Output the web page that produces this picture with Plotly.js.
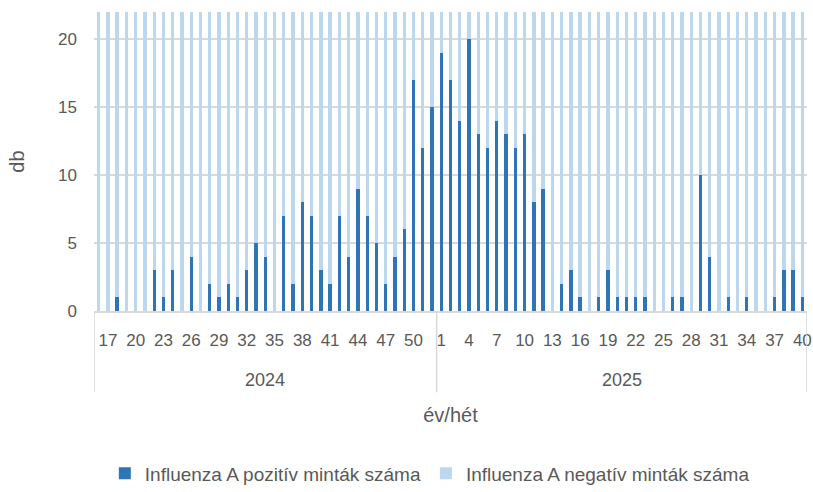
<!DOCTYPE html>
<html>
<head>
<meta charset="utf-8">
<script src="https://cdn.plot.ly/plotly-3.0.1.min.js"></script>
<style>
  html, body { margin: 0; padding: 0; background: #ffffff; }
  #chart { width: 813px; height: 492px; }
</style>
</head>
<body>
<div id="chart"></div>
<script>
// ---- data ----
const years = ["2024", "2025"];
const weeks2024 = [16,17,18,19,20,21,22,23,24,25,26,27,28,29,30,31,32,33,34,35,36,37,38,39,40,41,42,43,44,45,46,47,48,49,50,51,52];
const weeks2025 = [1,2,3,4,5,6,7,8,9,10,11,12,13,14,15,16,17,18,19,20,21,22,23,24,25,26,27,28,29,30,31,32,33,34,35,36,37,38,39,40];
const positive2024 = [0,0,1,0,0,0,3,1,3,0,4,0,2,1,2,1,3,5,4,0,7,2,8,7,3,2,7,4,9,7,5,2,4,6,17,12,15];
const positive2025 = [19,17,14,20,13,12,14,13,12,13,8,9,0,2,3,1,0,1,3,1,1,1,1,0,0,1,1,0,10,4,0,1,0,1,0,0,1,3,3,1];
// negative counts exceed the visible range (bars are clipped at the top)
const negative2024 = [31,28,33,30,27,29,34,32,30,28,35,31,29,33,30,32,36,34,38,35,40,37,42,44,41,45,48,46,52,50,55,53,58,60,64,57,70];
const negative2025 = [75,72,68,70,66,62,60,58,55,52,50,47,45,42,44,40,38,39,41,37,36,35,34,33,35,32,31,30,36,34,33,35,37,36,38,40,42,45,47,50];
const showWeeks = {"2024":[17,20,23,26,29,32,35,38,41,44,47,50], "2025":[1,4,7,10,13,16,19,22,25,28,31,34,37,40]};
const seriesNames = ["Influenza A pozitív minták száma", "Influenza A negatív minták száma"];
const axisTitles = {x: "év/hét", y: "db"};

// ---- build ----
const groups = [weeks2024, weeks2025];
const cats = [], pos = [], neg = [], tickvals = [], ticktext = [];
const posGroups = [positive2024, positive2025], negGroups = [negative2024, negative2025];
const groupStart = [];
years.forEach((yr, g) => {
  groupStart.push(cats.length);
  groups[g].forEach((w, i) => {
    const key = yr + "/" + w;
    cats.push(key);
    pos.push(posGroups[g][i]);
    neg.push(negGroups[g][i]);
    if (showWeeks[yr].includes(w)) { tickvals.push(key); ticktext.push(String(w)); }
  });
});
const n = cats.length;

const FONT = "'Liberation Sans Narrow', 'Liberation Sans', Arial, sans-serif";
const TXT = "#595959";
const GRID = "#d9d9d9";

const traces = [
  { type: "bar", x: cats, y: pos, name: seriesNames[0], marker: { color: "#2E75B6" }, hoverinfo: "x+y" },
  { type: "bar", x: cats, y: neg, name: seriesNames[1], marker: { color: "#BDD7EE" }, hoverinfo: "x+y" }
];

const shapes = [];
const annotations = [];
const lineBottom = -0.272;
// group divider lines: left edge, between years, right edge
const dividers = [-0.5];
years.forEach((yr, g) => { dividers.push(groupStart[g] + groups[g].length - 0.5); });
dividers.forEach(xv => {
  shapes.push({ type: "line", xref: "x", yref: "paper", x0: xv, x1: xv, y0: 0, y1: lineBottom,
                line: { color: GRID, width: 1.5 } });
});
years.forEach((yr, g) => {
  const mid = groupStart[g] + (groups[g].length - 1) / 2;
  annotations.push({ x: mid, xref: "x", y: -0.232, yref: "paper", text: yr, showarrow: false,
                     font: { family: FONT, size: 18, color: TXT }, yanchor: "middle" });
});

const layout = {
  width: 813, height: 492,
  margin: { l: 94, r: 6, t: 12, b: 181 },
  paper_bgcolor: "#ffffff", plot_bgcolor: "#ffffff",
  barmode: "stack", bargap: 0.64,
  showlegend: true,
  legend: { orientation: "h", x: 0.471, xanchor: "center", xref: "paper",
            y: 0.038, yanchor: "middle", yref: "container",
            font: { family: FONT, size: 19, color: TXT }, traceorder: "normal", itemwidth: 30 },
  xaxis: {
    type: "category", range: [-0.5, n - 0.5],
    tickmode: "array", tickvals: tickvals, ticktext: ticktext, tickangle: 0,
    ticks: "", ticklabelstandoff: 13,
    tickfont: { family: FONT, size: 17, color: TXT },
    showgrid: false, showline: true, linecolor: GRID, linewidth: 1.5,
    title: { text: axisTitles.x, font: { family: FONT, size: 20, color: TXT }, standoff: 59 },
    automargin: false
  },
  yaxis: {
    range: [0, 22], tickmode: "array", tickvals: [0, 5, 10, 15, 20],
    ticks: "", ticklabelstandoff: 16,
    tickfont: { family: FONT, size: 17, color: TXT },
    showgrid: true, gridcolor: GRID, gridwidth: 1.5, zeroline: false,
    showline: false,
    title: { text: axisTitles.y, font: { family: FONT, size: 20, color: TXT }, standoff: 28 },
    automargin: false
  },
  shapes: shapes,
  annotations: annotations
};

Plotly.newPlot("chart", traces, layout, { displayModeBar: false, staticPlot: true });
</script>
</body>
</html>
